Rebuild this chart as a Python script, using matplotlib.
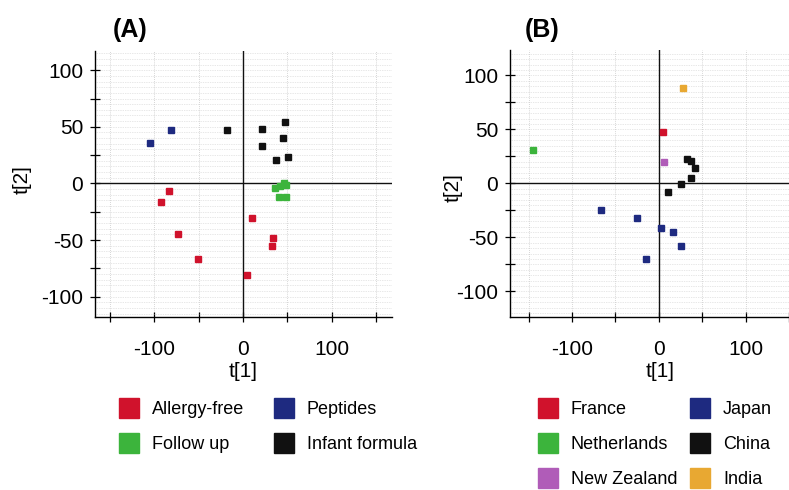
import matplotlib
matplotlib.use("Agg")
import matplotlib.pyplot as plt
from matplotlib.lines import Line2D
from matplotlib.ticker import MultipleLocator

plt.rcParams['font.family'] = ['Liberation Sans', 'DejaVu Sans']

# Panel A: score plot by product type
a_groups = ["Allergy-free", "Follow up", "Peptides", "Infant formula"]
a_colors = ["#d0122c", "#3cb43c", "#1e2a80", "#111111"]
a_t1 = {
    "Allergy-free": [-84, -93, -73, -51, 4, 10, 34, 33],
    "Follow up": [36, 42, 46, 49, 41, 48],
    "Peptides": [-81, -105],
    "Infant formula": [-18, 21, 47, 45, 21, 37, 51],
}
a_t2 = {
    "Allergy-free": [-7, -16, -45, -67, -81, -31, -48, -55],
    "Follow up": [-4, -2, 0, -1, -12, -12],
    "Peptides": [47, 36],
    "Infant formula": [47, 48, 54, 40, 33, 21, 23],
}

# Panel B: score plot by country
b_groups = ["France", "Netherlands", "New Zealand", "Japan", "China", "India"]
b_colors = ["#d0122c", "#3cb43c", "#b05cb8", "#1e2a80", "#111111", "#e8a832"]
b_t1 = {
    "France": [5],
    "Netherlands": [-145],
    "New Zealand": [6],
    "Japan": [-67, -25, 2, 16, 25, -15],
    "China": [32, 37, 42, 37, 25, 11],
    "India": [28],
}
b_t2 = {
    "France": [48],
    "Netherlands": [31],
    "New Zealand": [20],
    "Japan": [-25, -32, -41, -45, -58, -70],
    "China": [23, 21, 14, 5, -1, -8],
    "India": [88],
}


def style_axes(ax, xlim, ylim):
    ax.set_xlim(*xlim)
    ax.set_ylim(*ylim)
    ax.set_facecolor("white")
    for s in ["top", "right"]:
        ax.spines[s].set_visible(False)
    ax.spines["left"].set_linewidth(1.0)
    ax.spines["bottom"].set_linewidth(1.0)
    ax.yaxis.set_minor_locator(MultipleLocator(5))
    ax.set_xticks([-150, -100, -50, 0, 50, 100, 150])
    ax.set_xticklabels(["", "-100", "", "0", "", "100", ""])
    ax.set_yticks([-100, -75, -50, -25, 0, 25, 50, 75, 100])
    ax.set_yticklabels(["-100", "", "-50", "", "0", "", "50", "", "100"])
    ax.tick_params(axis="x", direction="inout", length=7, width=0.9, pad=13, labelsize=15)
    ax.tick_params(axis="y", direction="inout", length=7, width=0.9, pad=5, labelsize=15)
    ax.tick_params(axis="y", which="minor", length=0)
    ax.grid(True, axis="x", which="major", color="#c8c8c8", lw=0.6, ls=(0, (1, 1.5)))
    ax.grid(True, axis="y", which="both", color="#d0d0d0", lw=0.5, ls=(0, (1, 1.5)))
    ax.axhline(0, color="#111111", lw=1.0, zorder=1)
    ax.axvline(0, color="#111111", lw=1.0, zorder=1)
    ax.set_axisbelow(True)


def draw_panel(ax, groups, colors, t1, t2):
    for g, c in zip(groups, colors):
        ax.plot(t1[g], t2[g], ls="none", marker="s", ms=4.4, mfc=c, mec=c, zorder=3)


def set_labels(ax, xpos, ypos):
    ax.set_xlabel("t[1]", fontsize=15)
    ax.set_ylabel("t[2]", fontsize=15)
    ax.xaxis.set_label_coords(*xpos)
    ax.yaxis.set_label_coords(*ypos)
    ax.xaxis.label.set_va("center")
    ax.yaxis.label.set_va("center")


fig = plt.figure(figsize=(7.89, 4.90), dpi=100)

axA = fig.add_axes([0.1204, 0.3531, 0.3764, 0.5429])
style_axes(axA, (-167, 168), (-118, 117))
draw_panel(axA, a_groups, a_colors, a_t1, a_t2)
set_labels(axA, (0.498, -0.205), (-0.246, 0.515))

axB = fig.add_axes([0.6464, 0.3537, 0.3536, 0.5442])
style_axes(axB, (-171.5, 147), (-123.5, 123.5))
draw_panel(axB, b_groups, b_colors, b_t1, b_t2)
set_labels(axB, (0.537, -0.205), (-0.204, 0.483))

fig.text(130 / 789, 1 - 30 / 490, "(A)", fontsize=18, fontweight="bold", ha="center", va="center")
fig.text(542 / 789, 1 - 30 / 490, "(B)", fontsize=18, fontweight="bold", ha="center", va="center")


def make_handles(groups, colors):
    return [Line2D([], [], ls="none", marker="s", ms=14.5, mfc=c, mec=c, label=g)
            for g, c in zip(groups, colors)]


fig.legend(handles=make_handles(a_groups, a_colors), ncol=2, frameon=False,
           loc="upper left", bbox_to_anchor=(110 / 789, 1 - 394 / 490),
           fontsize=13, handlelength=1.3, handletextpad=0.6,
           columnspacing=1.6, labelspacing=1.0, borderaxespad=0)
fig.legend(handles=make_handles(b_groups, b_colors), ncol=2, frameon=False,
           loc="upper left", bbox_to_anchor=(529 / 789, 1 - 394 / 490),
           fontsize=13, handlelength=1.3, handletextpad=0.6,
           columnspacing=0.65, labelspacing=1.0, borderaxespad=0)

fig.savefig("out.png", dpi=100)
